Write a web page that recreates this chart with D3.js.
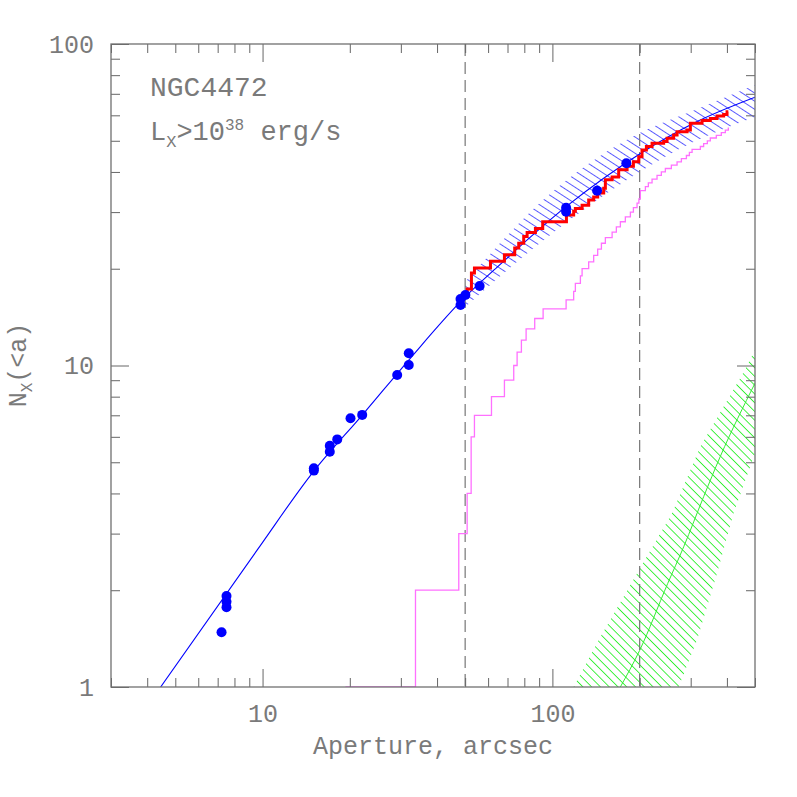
<!DOCTYPE html>
<html>
<head>
<meta charset="utf-8">
<script src="https://cdn.jsdelivr.net/npm/d3@7"></script>
<style>
body { margin: 0; background: #fff; }
text { font-family: "Liberation Mono", "DejaVu Sans Mono", monospace; fill: #7a7a7a; }
</style>
</head>
<body>
<svg id="chart" width="797" height="797"></svg>
<script>
const MARGINS = {top: 44, right: 42, bottom: 110, left: 111};
const WIDTH = 797, HEIGHT = 797;

const X_DOMAIN = [3, 500];
const Y_DOMAIN = [1, 100];

// sources from the optical / inner region (blue dots)
const pointA = [7.22, 7.51, 7.51, 7.51, 15.03, 15.03, 17.06, 17.06, 18.10, 20.11, 22.07,
                29.14, 31.95, 31.95, 48.2, 48.2, 50.1, 56.1, 111.5, 111.5, 142.6, 179.9];
const pointN = [1.48, 1.92, 1.84, 1.77, 4.79, 4.71, 5.63, 5.39, 5.89, 6.85, 7.02,
                9.34, 10.04, 10.91, 15.42, 16.1, 16.57, 17.68, 30.97, 30.08, 34.98, 42.56];

// model profile (blue line)
const modelA = [4.45, 9.59, 14.82, 22.35, 31.95, 50.1, 63.2, 111.5, 200, 307, 500];
const modelN = [1.0, 2.67, 4.62, 7.10, 10.4, 16.37, 19.9, 31.2, 45.5, 56.7, 68.3];

// model uncertainty band (blue hatch)
const bandA  = [50, 100, 200, 300, 500];
const bandLo = [15.2, 25.8, 40.0, 49.1, 59.3];
const bandHi = [18.2, 34.7, 52.9, 61.6, 74.5];

// corrected cumulative counts beyond 50" (red)
const redA = [50.8, 50.8, 52.56, 53.83, 61.14, 68.31, 74.13, 76.52, 79.62, 81.80, 87.37, 92.59,
              111.8, 118.4, 120.0, 126.6, 133.4, 138.8, 143.3, 150.3, 152.3, 160.7, 169.3, 181.0,
              190.3, 198.5, 203.8, 211.0, 220.7, 242.0, 248.6, 261.9, 269.2, 291.5, 299.2, 328.3,
              350.6, 369.8, 389.7, 400.4, 404.5];
const redN = [16.2, 17.3, 19.4, 20.1, 21.1, 22.1, 23.2, 24.0, 25.2, 25.9, 26.7, 28.0,
              29.4, 30.2, 30.8, 31.5, 32.7, 33.4, 34.4, 35.6, 37.8, 38.6, 40.6, 41.7,
              43.0, 44.6, 46.8, 48.0, 49.1, 49.7, 50.9, 52.1, 53.3, 54.0, 56.7, 57.8,
              58.7, 59.7, 60.4, 61.6, 61.6];

// raw cumulative counts (magenta)
const magA = [19.32, 33.70, 47.53, 50.80, 52.44, 53.83, 61.63, 68.31, 73.55, 75.55, 78.17, 81.15,
              86.89, 92.89, 111.5, 118.4, 120.0, 124.9, 126.6, 133.4, 138.8, 143.3, 147.6, 152.3,
              160.7, 166.2, 171.6, 178.5, 185.8, 190.3, 195.9, 198.8, 201.1, 209.3, 214.3, 220.7,
              229.6, 237.6, 245.3, 257.3, 269.2, 278.6, 289.9, 296.9, 303.3, 323.9, 332.5, 342.4,
              350.6, 367.7, 382.6, 395.0, 404.5];
const magN = [1, 2, 3, 4, 6, 7, 8, 9, 10, 11, 12, 13,
              14, 15, 16, 17, 18, 19, 20, 21, 22, 23, 24, 25,
              26, 27, 28, 29, 30, 31, 32, 33, 35, 36, 37, 38,
              39, 40, 41, 42, 43, 44, 45, 46, 47, 48, 49, 50,
              51, 52, 53, 54, 55];

// background expectation (green line + band)
const bkgA = [171.5, 200, 250, 283.8, 332.6, 379.4, 500];
const bkgN = [1.0, 1.30, 2.1, 2.73, 3.91, 5.21, 8.81];
const bkgHiA = [118.3, 144.4, 196, 258.7, 323.7, 454.6, 500];
const bkgHiN = [1.0, 1.40, 2.26, 3.47, 5.59, 9.46, 11.2];
const bkgLoA = [272.6, 315.5, 369.9, 421.7, 500];
const bkgLoN = [1.0, 1.40, 2.26, 3.47, 5.33];

const cutA = [50, 200];

let svg = d3.select("#chart");
let w = WIDTH - MARGINS.left - MARGINS.right;
let h = HEIGHT - MARGINS.top - MARGINS.bottom;
let g = svg.append("g").attr("transform", `translate(${MARGINS.left},${MARGINS.top})`);

let x = d3.scaleLog().domain(X_DOMAIN).range([0, w]);
let y = d3.scaleLog().domain(Y_DOMAIN).range([h, 0]);

let defs = svg.append("defs");
defs.append("clipPath").attr("id", "plotclip")
    .append("rect").attr("width", w).attr("height", h);

// parallel hatch lines, rotated so they run down to the right
function hatch(id, color, gap, angle){
    let p = defs.append("pattern").attr("id", id)
        .attr("patternUnits", "userSpaceOnUse")
        .attr("width", 20).attr("height", gap)
        .attr("patternTransform", `rotate(${angle})`);
    p.append("line").attr("x1", 0).attr("x2", 20)
        .attr("y1", gap / 2).attr("y2", gap / 2)
        .attr("stroke", color).attr("stroke-width", 0.9);
}
hatch("hatchBlue", "#4848ff", 6.8, 33);
hatch("hatchGreen", "#30f030", 6.2, 45);

let plot = g.append("g").attr("clip-path", "url(#plotclip)");

let zip = (a, b) => a.map((v, i) => [v, b[i]]);

// green background band
let greenPoly = zip(bkgHiA, bkgHiN).concat(zip(bkgLoA, bkgLoN).reverse());
plot.append("path")
    .attr("d", d3.line().x(d => x(d[0])).y(d => y(d[1])).curve(d3.curveLinearClosed)(greenPoly))
    .attr("fill", "url(#hatchGreen)");
plot.append("path")
    .attr("d", d3.line().x(d => x(d[0])).y(d => y(d[1])).curve(d3.curveMonotoneX)(zip(bkgA, bkgN)))
    .attr("fill", "none").attr("stroke", "#33ee33").attr("stroke-width", 1);

// blue model band
plot.append("path")
    .attr("d", d3.area().x(d => x(d[0])).y0(d => y(d[1])).y1(d => y(d[2])).curve(d3.curveMonotoneX)
        (bandA.map((a, i) => [a, bandLo[i], bandHi[i]])))
    .attr("fill", "url(#hatchBlue)");

// dashed aperture limits
plot.selectAll("line.cut").data(cutA).enter().append("line")
    .attr("class", "cut")
    .attr("x1", d => x(d)).attr("x2", d => x(d))
    .attr("y1", 0).attr("y2", h)
    .attr("stroke", "#777").attr("stroke-width", 1.2)
    .attr("stroke-dasharray", "12,6");

// magenta raw counts
plot.append("path")
    .attr("d", d3.line().x(d => x(d[0])).y(d => y(d[1])).curve(d3.curveStepAfter)(zip(magA, magN)))
    .attr("fill", "none").attr("stroke", "#ff70ff").attr("stroke-width", 1.3);

// model line
plot.append("path")
    .attr("d", d3.line().x(d => x(d[0])).y(d => y(d[1])).curve(d3.curveMonotoneX)(zip(modelA, modelN)))
    .attr("fill", "none").attr("stroke", "#0000ff").attr("stroke-width", 1.1);

// red corrected counts
plot.append("path")
    .attr("d", d3.line().x(d => x(d[0])).y(d => y(d[1])).curve(d3.curveStepAfter)(zip(redA, redN)))
    .attr("fill", "none").attr("stroke", "#ff0000").attr("stroke-width", 3)
    .attr("stroke-linejoin", "miter");

// blue dots
plot.selectAll("circle.pt").data(zip(pointA, pointN)).enter().append("circle")
    .attr("class", "pt")
    .attr("cx", d => x(d[0])).attr("cy", d => y(d[1])).attr("r", 5)
    .attr("fill", "#0000ff");

// axes: ticks on all four sides pointing in
let isMajor = v => Math.abs(Math.log10(v) - Math.round(Math.log10(v))) < 1e-6;
let xMinor = x.ticks().filter(v => !isMajor(v)), xMajor = x.ticks().filter(isMajor);
let yMinor = y.ticks().filter(v => !isMajor(v)), yMajor = y.ticks().filter(isMajor);
let fmt = d3.format("d");

function styleAxis(sel){
    sel.select(".domain").remove();
    sel.selectAll("line").attr("stroke", "#666");
    sel.selectAll("text").attr("fill", "#7a7a7a")
        .style("font-family", "'Liberation Mono', monospace").style("font-size", "25px");
}

g.append("g").attr("transform", `translate(0,${h})`)
    .call(d3.axisBottom(x).tickValues(xMinor).tickSize(-9).tickFormat("")).call(styleAxis);
g.append("g").attr("transform", `translate(0,${h})`)
    .call(d3.axisBottom(x).tickValues(xMajor).tickSize(-18).tickPadding(17).tickFormat(fmt)).call(styleAxis);
g.append("g")
    .call(d3.axisTop(x).tickValues(xMinor).tickSize(-9).tickFormat("")).call(styleAxis);
g.append("g")
    .call(d3.axisTop(x).tickValues(xMajor).tickSize(-18).tickFormat("")).call(styleAxis);

g.append("g")
    .call(d3.axisLeft(y).tickValues(yMinor).tickSize(-9).tickFormat("")).call(styleAxis);
g.append("g")
    .call(d3.axisLeft(y).tickValues(yMajor).tickSize(-18).tickPadding(17).tickFormat(fmt)).call(styleAxis);
g.append("g").attr("transform", `translate(${w},0)`)
    .call(d3.axisRight(y).tickValues(yMinor).tickSize(-9).tickFormat("")).call(styleAxis);
g.append("g").attr("transform", `translate(${w},0)`)
    .call(d3.axisRight(y).tickValues(yMajor).tickSize(-18).tickFormat("")).call(styleAxis);

// frame
g.append("rect").attr("width", w).attr("height", h)
    .attr("fill", "none").attr("stroke", "#707070").attr("stroke-width", 1.3);

// axis titles
g.append("text")
    .attr("x", w / 2).attr("y", 710).attr("text-anchor", "middle")
    .style("font-size", "25px")
    .text("Aperture, arcsec");

let yl = svg.append("text")
    .attr("transform", "translate(26,365) rotate(-90)")
    .attr("text-anchor", "middle")
    .style("font-size", "25px");
yl.append("tspan").text("N");
yl.append("tspan").attr("dy", 6).style("font-size", "16px").text("X");
yl.append("tspan").attr("dy", -6).text("(<a)");

// annotations
svg.append("text").attr("x", 150).attr("y", 96)
    .style("font-size", "28px").text("NGC4472");

let lx = svg.append("text").attr("x", 150).attr("y", 140).style("font-size", "27px");
lx.append("tspan").text("L");
lx.append("tspan").attr("dy", 7).style("font-size", "17px").text("X");
lx.append("tspan").attr("dy", -7).text(">10");
lx.append("tspan").attr("dy", -10).style("font-size", "16px").text("38");
lx.append("tspan").attr("dy", 10).text(" erg/s");
</script>
</body>
</html>
